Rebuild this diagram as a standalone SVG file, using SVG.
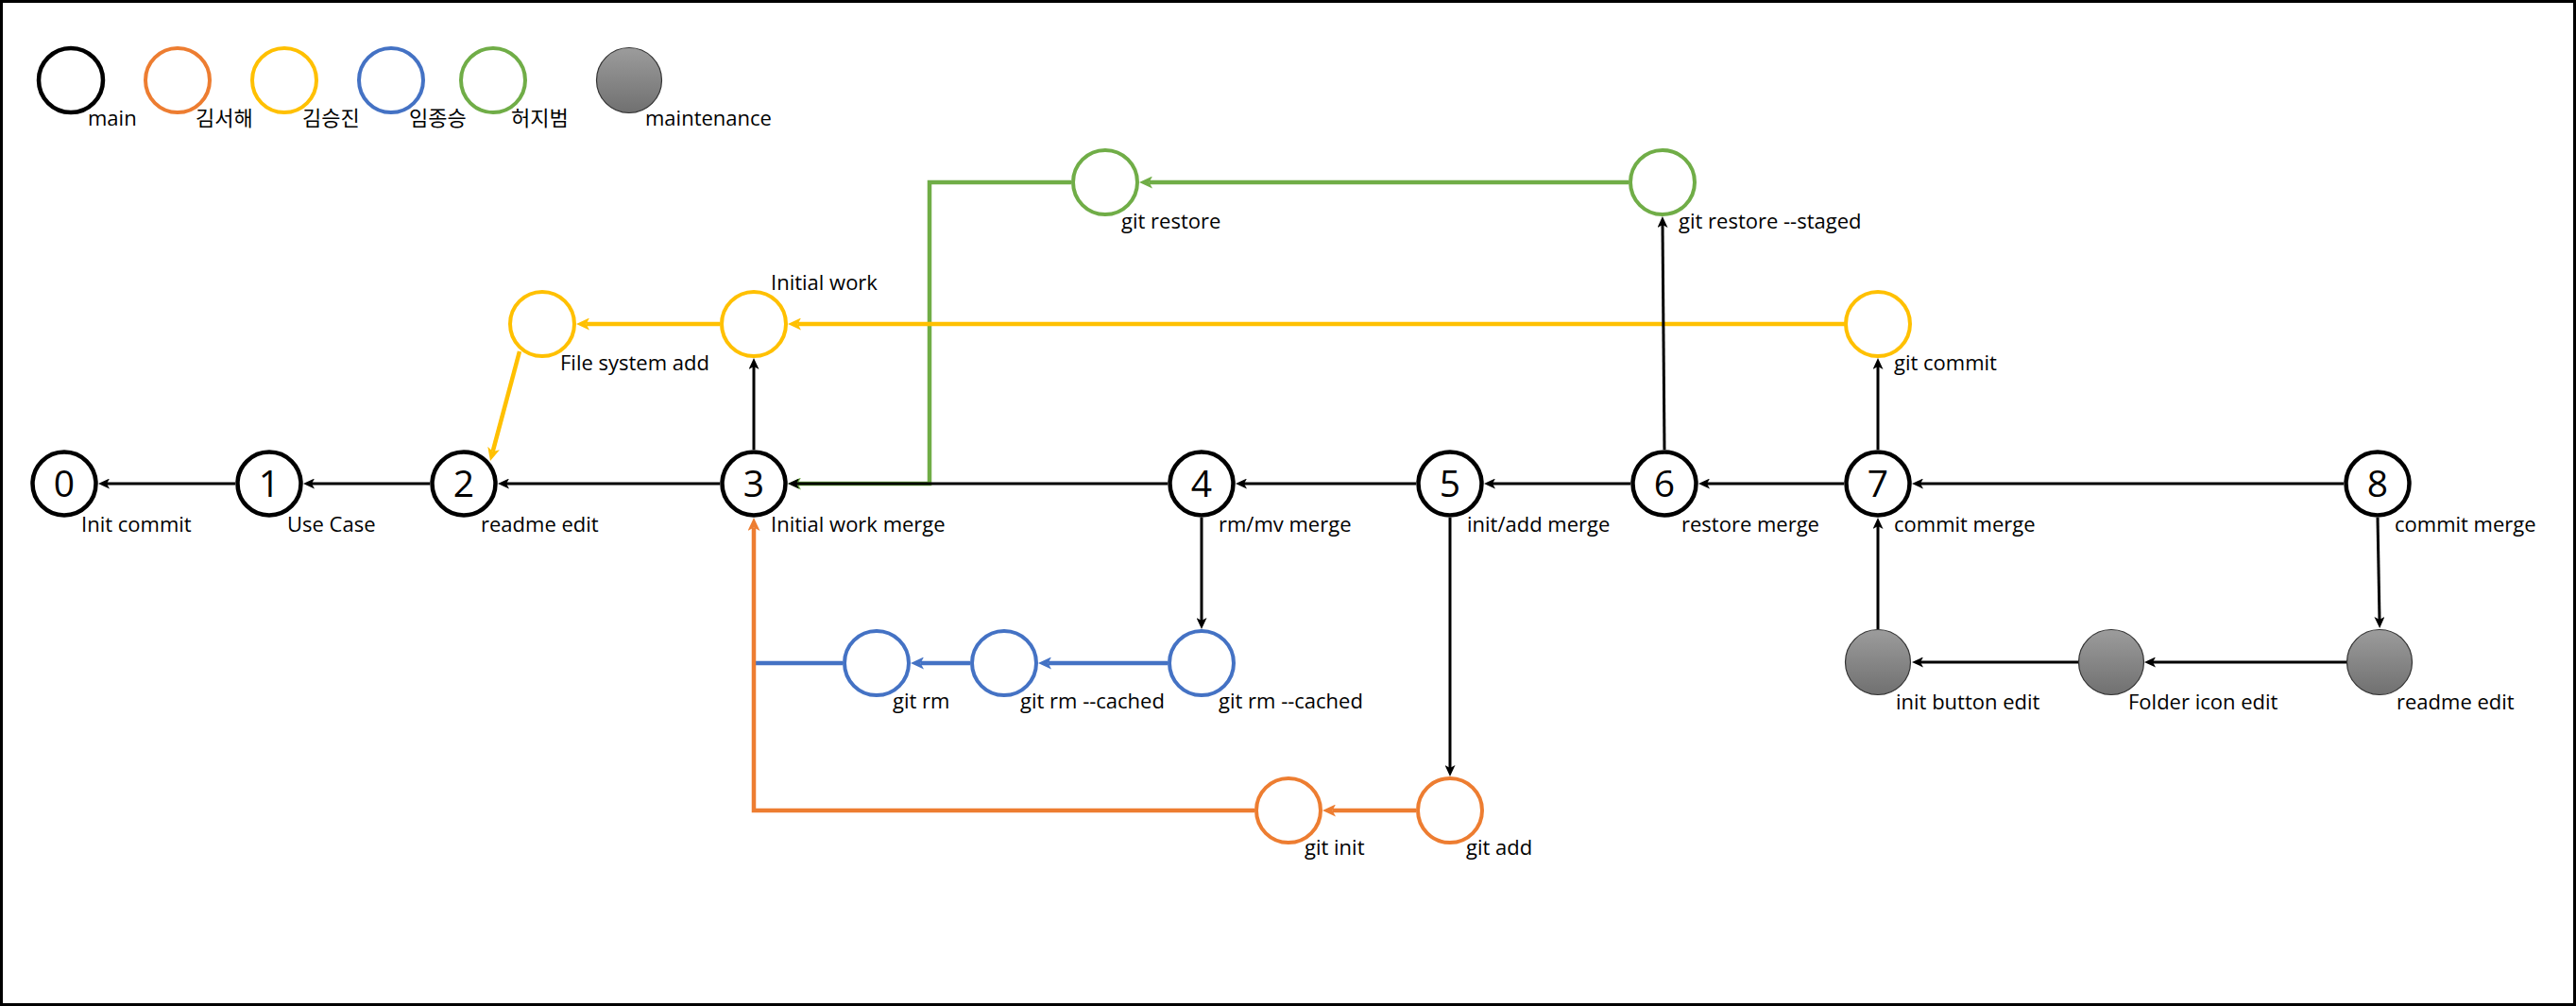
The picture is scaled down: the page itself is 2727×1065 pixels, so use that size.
<svg xmlns="http://www.w3.org/2000/svg" width="2727" height="1065" viewBox="0 0 2727 1065">
<style>
text{font-family:"Open Sans","Noto Sans CJK KR",sans-serif;font-size:22px;fill:#000}
.num{font-size:39px;text-anchor:middle}
.m{fill:#fff;stroke:#000;stroke-width:4.5}
.o{fill:#fff;stroke:#ED7D31;stroke-width:4}
.y{fill:#fff;stroke:#FFC000;stroke-width:4}
.b{fill:#fff;stroke:#4472C4;stroke-width:4}
.g{fill:#fff;stroke:#70AD47;stroke-width:4}
.gr{fill:url(#grad);stroke:#333;stroke-width:1.2}
.ck{fill:none;stroke:#000;stroke-width:3}
.co{fill:none;stroke:#ED7D31;stroke-width:4.5}
.cy{fill:none;stroke:#FFC000;stroke-width:4.5}
.cb{fill:none;stroke:#4472C4;stroke-width:4.5}
.cg{fill:none;stroke:#70AD47;stroke-width:4.5}
</style>
<defs>
<linearGradient id="grad" x1="0" y1="0" x2="0" y2="1">
<stop offset="0" stop-color="#9c9c9c"/>
<stop offset="1" stop-color="#707070"/>
</linearGradient>
<marker id="ak" markerUnits="userSpaceOnUse" markerWidth="12" markerHeight="11" refX="3" refY="5.5" orient="auto"><path d="M0,0 L12,5.5 L0,11 L3,5.5 Z" fill="#000"/></marker>
<marker id="ao" markerUnits="userSpaceOnUse" markerWidth="14" markerHeight="13" refX="3.5" refY="6.5" orient="auto"><path d="M0,0 L14,6.5 L0,13 L3.5,6.5 Z" fill="#ED7D31"/></marker>
<marker id="ay" markerUnits="userSpaceOnUse" markerWidth="14" markerHeight="13" refX="3.5" refY="6.5" orient="auto"><path d="M0,0 L14,6.5 L0,13 L3.5,6.5 Z" fill="#FFC000"/></marker>
<marker id="ab" markerUnits="userSpaceOnUse" markerWidth="14" markerHeight="13" refX="3.5" refY="6.5" orient="auto"><path d="M0,0 L14,6.5 L0,13 L3.5,6.5 Z" fill="#4472C4"/></marker>
<marker id="ag" markerUnits="userSpaceOnUse" markerWidth="14" markerHeight="13" refX="3.5" refY="6.5" orient="auto"><path d="M0,0 L14,6.5 L0,13 L3.5,6.5 Z" fill="#70AD47"/></marker>
</defs>
<rect x="0" y="0" width="2727" height="1065" fill="#fff"/>
<rect x="1.5" y="1.5" width="2724" height="1062" fill="none" stroke="#000" stroke-width="3"/>

<g id="legend">
<circle class="m" cx="75" cy="85" r="34"/><text x="93" y="133">main</text>
<circle class="o" cx="188" cy="85" r="34"/><text x="207" y="133">김서해</text>
<circle class="y" cx="301" cy="85" r="34"/><text x="320" y="133">김승진</text>
<circle class="b" cx="414" cy="85" r="34"/><text x="433" y="133">임종승</text>
<circle class="g" cx="522" cy="85" r="34"/><text x="541" y="133">허지범</text>
<circle class="gr" cx="666" cy="85" r="34.5"/><text x="683" y="133">maintenance</text>
</g>

<g id="connectors">
<line class="cg" x1="1724" y1="193" x2="1216.5" y2="193" marker-end="url(#ag)"/>
<path class="cg" d="M1134,193 H984 V512 H844.5" marker-end="url(#ag)"/>
<line class="cy" x1="1953" y1="343" x2="844.5" y2="343" marker-end="url(#ay)"/>
<line class="cy" x1="762" y1="343" x2="620.5" y2="343" marker-end="url(#ay)"/>
<line class="cy" x1="550" y1="372" x2="521.7" y2="477.9" marker-end="url(#ay)"/>
<line class="cb" x1="1236" y1="702" x2="1109.5" y2="702" marker-end="url(#ab)"/>
<line class="cb" x1="1027" y1="702" x2="974.5" y2="702" marker-end="url(#ab)"/>
<line class="cb" x1="892" y1="702" x2="798" y2="702"/>
<line class="co" x1="1499" y1="858" x2="1410.5" y2="858" marker-end="url(#ao)"/>
<path class="co" d="M1328,858 H798 V558.5" marker-end="url(#ao)"/>
<line class="ck" x1="249" y1="512" x2="113" y2="512" marker-end="url(#ak)"/>
<line class="ck" x1="455" y1="512" x2="330" y2="512" marker-end="url(#ak)"/>
<line class="ck" x1="762" y1="512" x2="536" y2="512" marker-end="url(#ak)"/>
<line class="ck" x1="1236" y1="512" x2="843" y2="512" marker-end="url(#ak)"/>
<line class="ck" x1="1499" y1="512" x2="1317" y2="512" marker-end="url(#ak)"/>
<line class="ck" x1="1726" y1="512" x2="1580" y2="512" marker-end="url(#ak)"/>
<line class="ck" x1="1952" y1="512" x2="1807" y2="512" marker-end="url(#ak)"/>
<line class="ck" x1="2481" y1="512" x2="2033" y2="512" marker-end="url(#ak)"/>
<line class="ck" x1="798" y1="476" x2="798" y2="388" marker-end="url(#ak)"/>
<line class="ck" x1="1762" y1="476" x2="1760" y2="238" marker-end="url(#ak)"/>
<line class="ck" x1="1988" y1="476" x2="1988" y2="388" marker-end="url(#ak)"/>
<line class="ck" x1="1272" y1="548" x2="1272" y2="657" marker-end="url(#ak)"/>
<line class="ck" x1="1535" y1="548" x2="1535" y2="813" marker-end="url(#ak)"/>
<line class="ck" x1="2517" y1="548" x2="2519" y2="656" marker-end="url(#ak)"/>
<line class="ck" x1="1988" y1="666" x2="1988" y2="557" marker-end="url(#ak)"/>
<line class="ck" x1="2484" y1="701" x2="2279" y2="701" marker-end="url(#ak)"/>
<line class="ck" x1="2200" y1="701" x2="2033" y2="701" marker-end="url(#ak)"/>
</g>

<g id="n0"><circle class="m" cx="68" cy="512" r="33.5"/><text class="num" x="68" y="526">0</text><text x="86" y="563">Init commit</text></g>
<g id="n1"><circle class="m" cx="285" cy="512" r="33.5"/><text class="num" x="285" y="526">1</text><text x="304" y="563">Use Case</text></g>
<g id="n2"><circle class="m" cx="491" cy="512" r="33.5"/><text class="num" x="491" y="526">2</text><text x="509" y="563">readme edit</text></g>
<g id="n3"><circle class="m" cx="798" cy="512" r="33.5"/><text class="num" x="798" y="526">3</text><text x="816" y="563">Initial work merge</text></g>
<g id="n4"><circle class="m" cx="1272" cy="512" r="33.5"/><text class="num" x="1272" y="526">4</text><text x="1290" y="563">rm/mv merge</text></g>
<g id="n5"><circle class="m" cx="1535" cy="512" r="33.5"/><text class="num" x="1535" y="526">5</text><text x="1553" y="563">init/add merge</text></g>
<g id="n6"><circle class="m" cx="1762" cy="512" r="33.5"/><text class="num" x="1762" y="526">6</text><text x="1780" y="563">restore merge</text></g>
<g id="n7"><circle class="m" cx="1988" cy="512" r="33.5"/><text class="num" x="1988" y="526">7</text><text x="2005" y="563">commit merge</text></g>
<g id="n8"><circle class="m" cx="2517" cy="512" r="33.5"/><text class="num" x="2517" y="526">8</text><text x="2535" y="563">commit merge</text></g>

<g id="y-fsadd"><circle class="y" cx="574" cy="343" r="34"/><text x="593" y="392">File system add</text></g>
<g id="y-initial"><circle class="y" cx="798" cy="343" r="34"/><text x="816" y="307">Initial work</text></g>
<g id="y-commit"><circle class="y" cx="1988" cy="343" r="34"/><text x="2005" y="392">git commit</text></g>

<g id="g-restore"><circle class="g" cx="1170" cy="193" r="34"/><text x="1187" y="242">git restore</text></g>
<g id="g-staged"><circle class="g" cx="1760" cy="193" r="34"/><text x="1777" y="242">git restore --staged</text></g>

<g id="b-rm"><circle class="b" cx="928" cy="702" r="34"/><text x="945" y="750">git rm</text></g>
<g id="b-cached1"><circle class="b" cx="1063" cy="702" r="34"/><text x="1080" y="750">git rm --cached</text></g>
<g id="b-cached2"><circle class="b" cx="1272" cy="702" r="34"/><text x="1290" y="750">git rm --cached</text></g>

<g id="o-init"><circle class="o" cx="1364" cy="858" r="34"/><text x="1381" y="905">git init</text></g>
<g id="o-add"><circle class="o" cx="1535" cy="858" r="34"/><text x="1552" y="905">git add</text></g>

<g id="m-initbtn"><circle class="gr" cx="1988" cy="701" r="34.5"/><text x="2007" y="751">init button edit</text></g>
<g id="m-folder"><circle class="gr" cx="2235" cy="701" r="34.5"/><text x="2253" y="751">Folder icon edit</text></g>
<g id="m-readme"><circle class="gr" cx="2519" cy="701" r="34.5"/><text x="2537" y="751">readme edit</text></g>
</svg>
